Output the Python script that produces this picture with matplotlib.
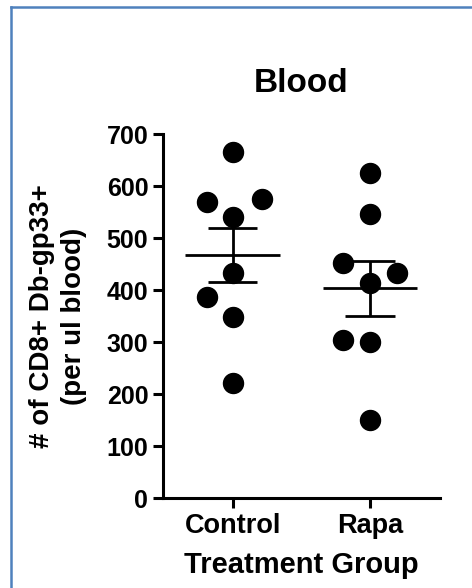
import numpy as np
import matplotlib
matplotlib.use("Agg")
import matplotlib.pyplot as plt
from matplotlib.lines import Line2D

plt.rcParams["font.family"] = ["Liberation Sans", "DejaVu Sans"]
plt.rcParams["font.weight"] = "bold"

groups = ["Control", "Rapa"]
control = [665, 570, 576, 541, 432, 387, 349, 222]
rapa = [626, 547, 452, 433, 413, 304, 301, 150]
# horizontal scatter of the dots, in category units
control_dx = [0, -0.19, 0.21, 0, 0, -0.19, 0, 0]
rapa_dx = [0, 0, -0.2, 0.2, 0, -0.2, 0, 0]
yticks = [0, 100, 200, 300, 400, 500, 600, 700]

fig = plt.figure(figsize=(4.72, 5.88), dpi=100)
ax = fig.add_axes([0.345, 0.153, 0.587, 0.619])

for i, (vals, dx) in enumerate([(control, control_dx), (rapa, rapa_dx)]):
    x0 = i + 1
    vals = np.array(vals, dtype=float)
    ax.plot(x0 + np.array(dx), vals, "o", color="black", ms=14.4, zorder=3)
    m = vals.mean()
    sem = vals.std(ddof=1) / np.sqrt(len(vals))
    ax.hlines(m, x0 - 0.345, x0 + 0.345, color="black", lw=2, zorder=4)
    ax.vlines(x0, m - sem, m + sem, color="black", lw=2, zorder=4)
    ax.hlines([m - sem, m + sem], x0 - 0.18, x0 + 0.18, color="black", lw=2, zorder=4)

ax.set_xlim(0.49, 2.51)
ax.set_ylim(0, 700)
ax.set_xticks([1, 2])
ax.set_xticklabels(groups, fontsize=19.5, fontweight="bold")
ax.set_yticks(yticks)
ax.set_yticklabels([str(t) for t in yticks], fontsize=18, fontweight="bold")
for s in ["top", "right"]:
    ax.spines[s].set_visible(False)
for s in ["left", "bottom"]:
    ax.spines[s].set_linewidth(2.2)
ax.tick_params(axis="both", width=2.2, length=7.5, pad=3)
ax.spines["left"].set_bounds(0, 700)

ax.set_title("Blood", fontsize=24, fontweight="bold", pad=30)
ax.set_xlabel("Treatment Group", fontsize=21, fontweight="bold", labelpad=9)
ax.set_ylabel("# of CD8+ Db-gp33+\n(per ul blood)", fontsize=20, fontweight="bold",
              labelpad=14, linespacing=1.3)

# blue frame around the image
blue = "#4f81bd"
fig.add_artist(Line2D([10.5 / 472, 1.0], [1 - 7 / 588, 1 - 7 / 588],
                      transform=fig.transFigure, color=blue, lw=1.8))
fig.add_artist(Line2D([10.5 / 472, 10.5 / 472], [0, 1 - 7 / 588],
                      transform=fig.transFigure, color=blue, lw=1.8))

fig.savefig("out.png", dpi=100)
